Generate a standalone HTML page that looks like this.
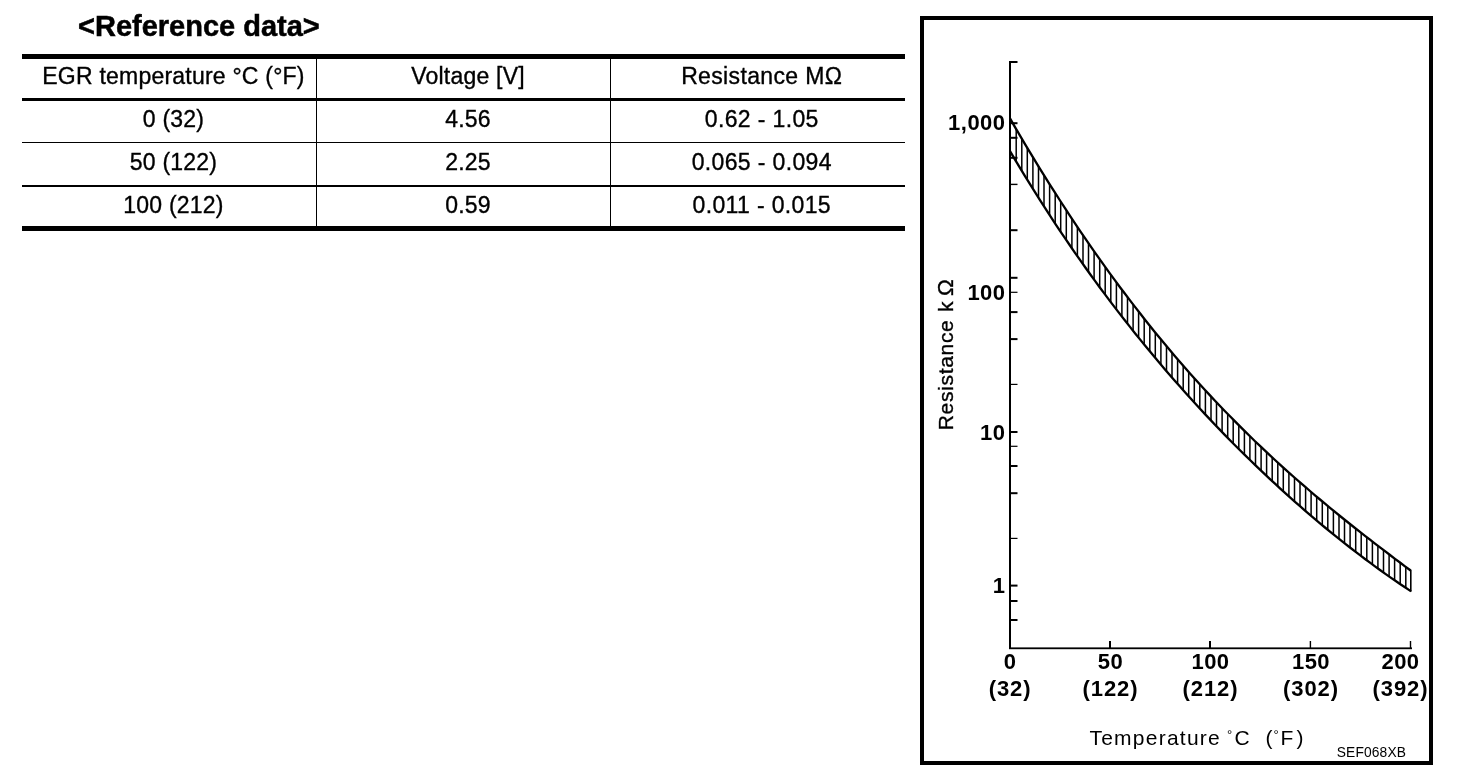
<!DOCTYPE html>
<html lang="en">
<head>
<meta charset="utf-8">
<title>Reference data</title>
<style>
html,body{margin:0;padding:0;background:#fff;}
body{width:1472px;height:772px;position:relative;overflow:hidden;font-family:"Liberation Sans",sans-serif;color:#000;}
h1{position:absolute;left:78px;top:9px;margin:0;font-size:29px;line-height:34px;font-weight:bold;white-space:nowrap;-webkit-text-stroke:0.5px #000;}
table{position:absolute;left:22px;top:54px;width:883px;border-collapse:separate;border-spacing:0;table-layout:fixed;border-top:5px solid #000;border-bottom:5px solid #000;font-size:23px;letter-spacing:0.22px;-webkit-text-stroke:0.35px #000;}
td span,th span{display:inline-block;}
td,th{box-sizing:border-box;padding:0 0 0 9px;text-align:center;font-weight:normal;vertical-align:top;line-height:26px;white-space:nowrap;border-right:1px solid #000;border-bottom:1px solid #000;}
td:last-child,th:last-child{border-right:0;letter-spacing:0.36px;padding-left:7.5px;}
tr.h th{height:42px;border-bottom-width:3px;padding-top:4px;}
tr.r1 td{height:42px;padding-top:5px;}
tr.r2 td{height:44px;border-bottom-width:2px;padding-top:6px;}
tr.r3 td{height:39px;border-bottom:0;padding-top:5px;}
svg{position:absolute;left:0;top:0;}
svg text{font-family:"Liberation Sans",sans-serif;}
.b{font-weight:bold;font-size:22px;letter-spacing:0.5px;}
.p{letter-spacing:0.95px;}
.n{font-size:21px;letter-spacing:0.9px;}
.r{font-size:21px;letter-spacing:1.25px;stroke:#000;stroke-width:0.35px;}
</style>
</head>
<body>
<h1>&lt;Reference data&gt;</h1>
<table>
<colgroup><col style="width:295px"><col style="width:294px"><col style="width:294px"></colgroup>
<tr class="h"><th><span>EGR temperature °C (°F)</span></th><th><span>Voltage [V]</span></th><th><span>Resistance MΩ</span></th></tr>
<tr class="r1"><td><span>0 (32)</span></td><td><span>4.56</span></td><td><span>0.62 - 1.05</span></td></tr>
<tr class="r2"><td><span>50 (122)</span></td><td><span>2.25</span></td><td><span>0.065 - 0.094</span></td></tr>
<tr class="r3"><td><span>100 (212)</span></td><td><span>0.59</span></td><td><span>0.011 - 0.015</span></td></tr>
</table>
<svg width="1472" height="772" viewBox="0 0 1472 772">
<rect x="922" y="18" width="509" height="745" fill="none" stroke="#000" stroke-width="4"/>
<g fill="#000">
<rect x="1009" y="61" width="2" height="588"/>
<rect x="1009" y="647.4" width="403" height="1.8"/>
<rect x="1010" y="61.0" width="7.5" height="2"/><rect x="1010" y="122.2" width="7.5" height="2"/><rect x="1010" y="136.8" width="7.5" height="2"/><rect x="1010" y="156.8" width="7.5" height="2"/><rect x="1010" y="183.7" width="7.5" height="1.4"/><rect x="1010" y="229.2" width="7.5" height="2"/><rect x="1010" y="276.8" width="7.5" height="2"/><rect x="1010" y="291.7" width="7.5" height="1.2"/><rect x="1010" y="311.1" width="7.5" height="2"/><rect x="1010" y="338.1" width="7.5" height="2"/><rect x="1010" y="383.8" width="7.5" height="1.2"/><rect x="1010" y="431.0" width="7.5" height="2"/><rect x="1010" y="445.7" width="7.5" height="1.2"/><rect x="1010" y="465.0" width="7.5" height="2"/><rect x="1010" y="492.2" width="7.5" height="2"/><rect x="1010" y="537.8" width="7.5" height="1.2"/><rect x="1010" y="584.6" width="7.5" height="2"/><rect x="1010" y="600.0" width="7.5" height="2"/><rect x="1010" y="619.0" width="7.5" height="2"/>
<rect x="1109.0" y="641" width="2" height="7.5"/><rect x="1209.0" y="641" width="2" height="7.5"/><rect x="1309.7" y="641" width="1.4" height="7.5"/><rect x="1409.8" y="641" width="1.4" height="7.5"/>
</g>
<g fill="none" stroke="#000">
<path d="M1016.2 129.1V161.6M1021.8 138.6V170.8M1027.3 148.0V179.9M1032.9 157.2V188.9M1038.5 166.3V197.7M1044.0 175.3V206.4M1049.6 184.2V215.0M1055.2 193.0V223.5M1060.7 201.7V231.9M1066.3 210.2V240.1M1071.9 218.6V248.2M1077.4 227.0V256.2M1083.0 235.2V264.1M1088.5 243.3V271.9M1094.1 251.3V279.6M1099.7 259.2V287.2M1105.2 267.0V294.7M1110.8 274.7V302.1M1116.4 282.3V309.4M1121.9 289.8V316.6M1127.5 297.1V323.7M1133.1 304.4V330.8M1138.6 311.6V337.7M1144.2 318.7V344.5M1149.8 325.7V351.3M1155.3 332.6V358.0M1160.9 339.3V364.6M1166.5 346.0V371.1M1172.0 352.7V377.5M1177.6 359.2V383.9M1183.2 365.6V390.1M1188.7 371.9V396.4M1194.3 378.2V402.5M1199.8 384.4V408.5M1205.4 390.4V414.5M1211.0 396.4V420.4M1216.5 402.4V426.3M1222.1 408.2V432.1M1227.7 414.0V437.8M1233.2 419.6V443.4M1238.8 425.3V449.0M1244.4 430.8V454.5M1249.9 436.2V460.0M1255.5 441.6V465.4M1261.1 447.0V470.7M1266.6 452.2V475.9M1272.2 457.4V481.1M1277.8 462.5V486.3M1283.3 467.6V491.4M1288.9 472.6V496.4M1294.5 477.5V501.3M1300.0 482.4V506.2M1305.6 487.2V511.1M1311.1 492.0V515.8M1316.7 496.7V520.6M1322.3 501.4V525.2M1327.8 506.0V529.8M1333.4 510.6V534.3M1339.0 515.1V538.8M1344.5 519.6V543.2M1350.1 524.1V547.6M1355.7 528.5V551.9M1361.2 532.9V556.1M1366.8 537.2V560.3M1372.4 541.5V564.4M1377.9 545.8V568.5M1383.5 550.1V572.5M1389.1 554.3V576.4M1394.6 558.5V580.3M1400.2 562.7V584.1M1405.8 566.8V587.8" stroke-width="1.5"/>
<polyline points="1010.0,118.4 1015.0,127.1 1020.0,135.6 1025.0,144.1 1030.0,152.4 1035.0,160.7 1040.0,168.8 1045.0,176.9 1050.0,184.9 1055.0,192.7 1060.0,200.5 1065.0,208.2 1070.0,215.8 1075.0,223.4 1080.0,230.8 1085.0,238.2 1090.0,245.4 1095.0,252.6 1100.0,259.7 1105.0,266.7 1110.0,273.6 1115.0,280.4 1120.0,287.2 1125.0,293.8 1130.0,300.4 1135.0,306.9 1140.0,313.3 1145.0,319.7 1150.0,326.0 1155.0,332.2 1160.0,338.3 1165.0,344.3 1170.0,350.3 1175.0,356.2 1180.0,362.0 1185.0,367.7 1190.0,373.4 1195.0,379.0 1200.0,384.5 1205.0,390.0 1210.0,395.4 1215.0,400.7 1220.0,406.0 1225.0,411.2 1230.0,416.3 1235.0,421.4 1240.0,426.4 1245.0,431.4 1250.0,436.3 1255.0,441.2 1260.0,445.9 1265.0,450.7 1270.0,455.4 1275.0,460.0 1280.0,464.6 1285.0,469.1 1290.0,473.6 1295.0,478.0 1300.0,482.4 1305.0,486.7 1310.0,491.0 1315.0,495.3 1320.0,499.5 1325.0,503.7 1330.0,507.8 1335.0,511.9 1340.0,516.0 1345.0,520.0 1350.0,524.0 1355.0,528.0 1360.0,531.9 1365.0,535.8 1370.0,539.7 1375.0,543.6 1380.0,547.4 1385.0,551.2 1390.0,555.0 1395.0,558.8 1400.0,562.5 1405.0,566.3 1410.0,570.0 1411.0,570.8" stroke-width="2.3"/>
<polyline points="1010.0,151.1 1015.0,159.6 1020.0,167.9 1025.0,176.1 1030.0,184.2 1035.0,192.2 1040.0,200.1 1045.0,207.9 1050.0,215.7 1055.0,223.3 1060.0,230.8 1065.0,238.2 1070.0,245.5 1075.0,252.8 1080.0,259.9 1085.0,267.0 1090.0,274.0 1095.0,280.9 1100.0,287.7 1105.0,294.4 1110.0,301.1 1115.0,307.6 1120.0,314.1 1125.0,320.5 1130.0,326.9 1135.0,333.2 1140.0,339.4 1145.0,345.5 1150.0,351.6 1155.0,357.6 1160.0,363.5 1165.0,369.4 1170.0,375.2 1175.0,380.9 1180.0,386.6 1185.0,392.2 1190.0,397.8 1195.0,403.3 1200.0,408.7 1205.0,414.1 1210.0,419.4 1215.0,424.7 1220.0,429.9 1225.0,435.1 1230.0,440.2 1235.0,445.2 1240.0,450.2 1245.0,455.1 1250.0,460.0 1255.0,464.9 1260.0,469.7 1265.0,474.4 1270.0,479.1 1275.0,483.7 1280.0,488.3 1285.0,492.9 1290.0,497.4 1295.0,501.8 1300.0,506.2 1305.0,510.6 1310.0,514.9 1315.0,519.1 1320.0,523.3 1325.0,527.5 1330.0,531.6 1335.0,535.6 1340.0,539.6 1345.0,543.6 1350.0,547.5 1355.0,551.4 1360.0,555.2 1365.0,559.0 1370.0,562.7 1375.0,566.4 1380.0,570.0 1385.0,573.6 1390.0,577.1 1395.0,580.5 1400.0,584.0 1405.0,587.3 1410.0,590.6 1411.0,591.3" stroke-width="2.3"/>
<path d="M1410.8 570.3V591.8" stroke-width="1.6"/>
</g>
<g class="b"><text x="1005.6" y="129.9" text-anchor="end">1,000</text><text x="1005.6" y="300.0" text-anchor="end">100</text><text x="1005.6" y="439.7" text-anchor="end">10</text><text x="1005.6" y="593.2" text-anchor="end">1</text><text x="1010.1" y="669" text-anchor="middle">0</text><text class="p" x="1010.1" y="696.3" text-anchor="middle">(32)</text><text x="1110.5" y="669" text-anchor="middle">50</text><text class="p" x="1110.5" y="696.3" text-anchor="middle">(122)</text><text x="1210.5" y="669" text-anchor="middle">100</text><text class="p" x="1210.5" y="696.3" text-anchor="middle">(212)</text><text x="1311.0" y="669" text-anchor="middle">150</text><text class="p" x="1311.0" y="696.3" text-anchor="middle">(302)</text><text x="1400.5" y="669" text-anchor="middle">200</text><text class="p" x="1400.5" y="696.3" text-anchor="middle">(392)</text></g>
<text class="r" transform="translate(953.2 430.3) rotate(-90)"><tspan x="0" letter-spacing="0.69">Resistance</tspan><tspan x="118.2">k</tspan><tspan x="134.4" font-size="22.5">Ω</tspan></text>
<text class="n" y="745.2"><tspan x="1089.4" letter-spacing="1.25">Temperature</tspan><tspan x="1227" dy="-6.5" font-size="13">°</tspan><tspan x="1234.6" dy="6.5">C</tspan><tspan x="1265.6">(</tspan><tspan x="1273.6" dy="-6.5" font-size="13">°</tspan><tspan x="1280.6" dy="6.5">F</tspan><tspan x="1296.6">)</tspan></text>
<text x="1336.7" y="756.8" font-size="13.8" letter-spacing="0.15">SEF068XB</text>
</svg>
</body>
</html>
